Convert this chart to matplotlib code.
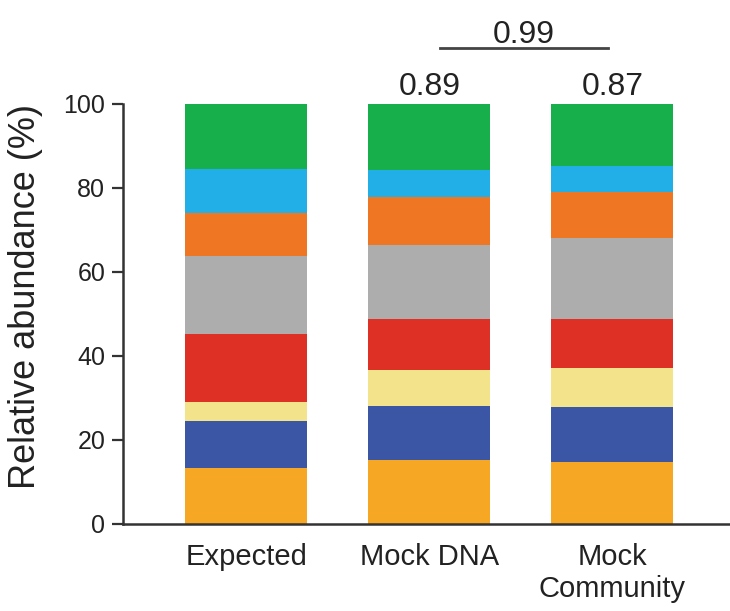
import numpy as np
import matplotlib
matplotlib.use("Agg")
import matplotlib.pyplot as plt

plt.rcParams['font.family'] = ['Liberation Sans', 'DejaVu Sans']

# samples on the x axis
samples = ['Expected', 'Mock DNA', 'Mock\nCommunity']

# relative abundance (%) of each taxon, bottom to top
taxon1 = [13.2, 15.1, 14.6]
taxon2 = [11.3, 13.0, 13.1]
taxon3 = [4.5, 8.5, 9.4]
taxon4 = [16.2, 12.1, 11.6]
taxon5 = [18.6, 17.7, 19.3]
taxon6 = [10.1, 11.4, 11.1]
taxon7 = [10.5, 6.5, 6.1]
taxon8 = [15.6, 15.7, 14.8]

# correlation values shown above the bars
r_dna = 0.89
r_comm = 0.87
r_between = 0.99

layers = [taxon1, taxon2, taxon3, taxon4, taxon5, taxon6, taxon7, taxon8]
colors = ['#F6A723', '#3C56A6', '#F3E38A', '#DE3024',
          '#ADADAD', '#EF7623', '#22AEE6', '#17AE4C']

fig = plt.figure(figsize=(7.3, 6.11), dpi=100)
ax = fig.add_axes([0.169, 0.1432, 0.831, 0.6866])

x = np.arange(len(samples))
bottom = np.zeros(len(samples))
for vals, c in zip(layers, colors):
    ax.bar(x, vals, width=0.667, bottom=bottom, color=c, linewidth=0,
           clip_on=False, zorder=2)
    bottom += np.array(vals)

ax.set_xlim(-0.673, 2.643)
ax.set_ylim(0, 100)
ax.set_yticks([0, 20, 40, 60, 80, 100])
ax.set_xticks(x)
ax.set_xticklabels(samples, fontsize=21, color='#222222')
ax.tick_params(axis='x', length=0, pad=14)
ax.tick_params(axis='y', length=8, width=1.6, pad=5, labelsize=18,
               color='#333333', labelcolor='#222222')

for s in ['top', 'right']:
    ax.spines[s].set_visible(False)
for s in ['left', 'bottom']:
    ax.spines[s].set_linewidth(1.8)
    ax.spines[s].set_color('#333333')
ax.spines['bottom'].set_zorder(3)

ax.set_ylabel('Relative abundance (%)', fontsize=26, color='#222222')
ax.yaxis.set_label_coords(-0.132, 0.54)

# correlation annotations
ax.text(x[1], 102.1, '%.2f' % r_dna, ha='center', va='baseline',
        fontsize=23, color='#222222', clip_on=False)
ax.text(x[2], 102.1, '%.2f' % r_comm, ha='center', va='baseline',
        fontsize=23, color='#222222', clip_on=False)
ax.plot([1.057, 1.975], [113.4, 113.4], color='#444444', lw=2,
        clip_on=False)
ax.text(1.516, 114.6, '%.2f' % r_between, ha='center', va='baseline',
        fontsize=23, color='#222222', clip_on=False)

fig.savefig('out.png', dpi=100)
